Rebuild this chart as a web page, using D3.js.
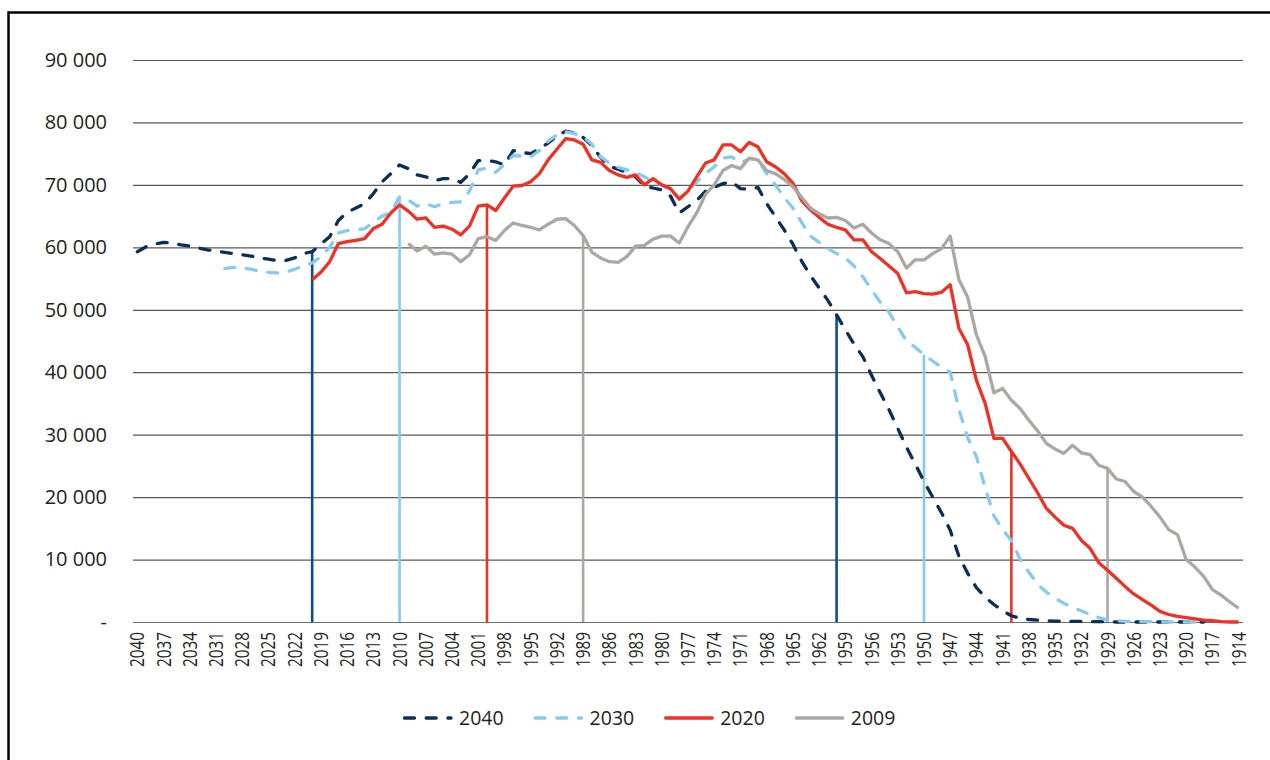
<!DOCTYPE html>
<html>
<head>
<meta charset="utf-8">
<script src="https://cdn.jsdelivr.net/npm/d3@7"></script>
<style>
  body { margin: 0; background: #fff; }
  svg text { font-family: "Open Sans", sans-serif; fill: #231f20; }
</style>
</head>
<body>
<svg id="chart" width="1270" height="760"></svg>
<script>
// birth years on the category axis, newest first
const categories = d3.range(2040, 1913, -1);
const tickLabels = [2040, 2037, 2034, 2031, 2028, 2025, 2022, 2019, 2016, 2013, 2010,
  2007, 2004, 2001, 1998, 1995, 1992, 1989, 1986, 1983, 1980, 1977, 1974, 1971,
  1968, 1965, 1962, 1959, 1956, 1953, 1950, 1947, 1944, 1941, 1938, 1935, 1932,
  1929, 1926, 1923, 1920, 1917, 1914];
const yTicks = [0, 10000, 20000, 30000, 40000, 50000, 60000, 70000, 80000, 90000];

const seriesNames = ["2040", "2030", "2020", "2009"];
// first birth year of each series (values then go one year back per entry)
const seriesStart = [2040, 2030, 2020, 2009];

const v2040 = [
  59300, 60100, 60500, 60800, 60700, 60400, 60200, 59900, 59600, 59400,
  59200, 59000, 58800, 58600, 58300, 58100, 57900, 57900, 58300, 59000,
  59300, 60500, 61700, 64300, 65600, 66300, 67000, 68600, 70500, 71800,
  73200, 72600, 71600, 71300, 70700, 71000, 71000, 70400, 71800, 73900,
  73900, 73700, 73200, 75500, 75200, 75000, 75800, 76700, 77800, 78600,
  78300, 77600, 76300, 74400, 73000, 72500, 72000, 71300, 69800, 69500,
  69200, 68200, 65500, 66500, 67500, 69000, 69600, 70200, 70500, 69400,
  69300, 69600, 67000, 64900, 62800, 60500, 57800, 55500, 53500, 51500,
  49200, 46800, 44500, 42500, 39500, 36700, 34000, 31000, 28000, 25300,
  22500, 20000, 17500, 14700, 10500, 7800, 5500, 4000, 2800, 1800,
  1000, 600, 400, 300, 200, 150, 100, 100, 100, 50,
  50, 50, 0, 0, 0, 0, 0, 0, 0, 0,
  0, 0, 0
];
const v2030 = [
  56600, 56800, 56700, 56500, 56200, 56000, 55900, 56000, 56500, 57000,
  57500, 58500, 60000, 62300, 62700, 62800, 63000, 64000, 65000, 65600,
  68100, 67600, 66600, 67000, 66500, 67000, 67200, 67300, 69000, 72400,
  72700, 72000, 73300, 74700, 74600, 74500, 75500, 77000, 78000, 78500,
  78200, 77800, 76500, 74500, 73500, 72800, 72400, 72000, 71300, 70500,
  70000, 69300, 67900, 69000, 70500, 71800, 72900, 74300, 74500, 73500,
  74200, 74000, 71800, 70000, 68000, 66300, 64000, 61800, 60800, 59800,
  59000, 58300, 57000, 55300, 53200, 51200, 49600, 47300, 45000, 44000,
  42800, 41800, 40800, 40000, 34000, 29500, 26500, 21500, 17000, 14800,
  13000, 10000, 8000, 6000, 4800, 3800, 3000, 2300, 1800, 1200,
  700, 300, 200, 100, 100, 50, 50, 0, 0, 0,
  0, 0, 0
];
const v2020 = [
  54800, 56000, 57700, 60600, 60900, 61100, 61400, 63000, 63700, 65500,
  66800, 65800, 64500, 64700, 63200, 63400, 62900, 62000, 63400, 66600,
  66800, 65900, 67900, 69800, 69900, 70500, 71800, 74000, 75700, 77400,
  77200, 76500, 74000, 73600, 72300, 71600, 71200, 71600, 70000, 71000,
  70000, 69400, 67700, 69000, 71300, 73500, 74000, 76400, 76400, 75300,
  76800, 76100, 73700, 72900, 71800, 70300, 67500, 66000, 64800, 63700,
  63200, 62800, 61200, 61200, 59300, 58200, 57000, 55800, 52700, 52900,
  52600, 52500, 52800, 54000, 47000, 44400, 38700, 35000, 29400, 29400,
  27300, 25300, 23000, 20700, 18200, 16800, 15500, 15000, 13100, 11800,
  9500, 8300, 7000, 5700, 4500, 3600, 2700, 1700, 1200, 900,
  700, 500, 300, 200, 50, 0, 0
];
const v2009 = [
  60600, 59400, 60200, 58900, 59100, 58900, 57700, 58800, 61400, 61700,
  61100, 62700, 63900, 63500, 63200, 62800, 63700, 64500, 64600, 63500,
  61900, 59200, 58300, 57700, 57600, 58500, 60200, 60300, 61300, 61800,
  61800, 60700, 63300, 65500, 68500, 70000, 72300, 73100, 72600, 74300,
  74000, 72300, 71800, 70900, 69700, 68000, 66300, 65400, 64700, 64800,
  64300, 63100, 63700, 62300, 61200, 60600, 59300, 56700, 58000, 58000,
  59000, 59800, 61800, 54800, 52000, 46000, 42500, 36700, 37400, 35500,
  34200, 32300, 30600, 28600, 27700, 27000, 28300, 27100, 26800, 25100,
  24600, 22900, 22500, 20900, 20000, 18500, 16800, 14800, 14000, 10000,
  8800, 7300, 5200, 4300, 3200, 2200
];
const seriesValues = [v2040, v2030, v2020, v2009];
// drop lines at age 20 and age 80 for each projection year
const dropYears = [[2020, 1960], [2010, 1950], [2000, 1940], [1989, 1929]];

const lineColors = ["#0b2e59", "#86cbee", "#ee3124", "#aca7a3"];
const dropColors = ["#0d4f8b", "#86cbee", "#ee3124", "#aca7a3"];
const dashed = [true, true, false, false];

const svg = d3.select("#chart");

const plotLeft = 133, plotRight = 1243, plotTop = 60, plotBottom = 622;

const x = d3.scaleBand().domain(categories).range([plotLeft, plotRight]);
const cx = yr => x(yr) + x.bandwidth() / 2;
const y = d3.scaleLinear().domain([0, 90000]).range([plotBottom, plotTop]);

const locale = d3.formatLocale({ decimal: ",", thousands: " ", grouping: [3], currency: ["", ""] });
const fmt = locale.format(",");

// outer frame (top and left only)
svg.append("path")
  .attr("d", "M8.5,760 V12.5 H1270")
  .attr("fill", "none")
  .attr("stroke", "#000")
  .attr("stroke-width", 2.5);

// y axis with gridlines
const yAxis = svg.append("g")
  .attr("transform", `translate(${plotLeft},0)`)
  .call(d3.axisLeft(y)
    .tickValues(yTicks)
    .tickSize(-(plotRight - plotLeft))
    .tickPadding(26)
    .tickFormat(d => d === 0 ? "-" : fmt(d)));
yAxis.select(".domain").remove();
yAxis.selectAll(".tick line")
  .attr("stroke", d => d === 0 ? "#6d6e71" : "#58595b")
  .attr("stroke-width", 1.2);
yAxis.selectAll(".tick text")
  .attr("font-size", 20)
  .attr("fill", "#231f20");

// x axis labels
const xAxis = svg.append("g")
  .attr("transform", `translate(0,${plotBottom})`)
  .call(d3.axisBottom(x).tickValues(tickLabels).tickSize(0));
xAxis.select(".domain").remove();
xAxis.selectAll(".tick text")
  .attr("transform", "rotate(-90)")
  .attr("text-anchor", "end")
  .attr("x", -10)
  .attr("y", 0)
  .attr("dy", "0.35em")
  .attr("font-size", 20)
  .attr("textLength", 35)
  .attr("lengthAdjust", "spacingAndGlyphs")
  .attr("fill", "#231f20");

// drop lines
seriesValues.forEach((vals, i) => {
  dropYears[i].forEach(yr => {
    const v = vals[seriesStart[i] - yr];
    svg.append("line")
      .attr("x1", cx(yr)).attr("x2", cx(yr))
      .attr("y1", y(0)).attr("y2", y(v))
      .attr("stroke", dropColors[i])
      .attr("stroke-width", 2.6);
  });
});

// series lines
const line = d3.line()
  .x(d => cx(d.year))
  .y(d => y(d.value));

seriesValues.forEach((vals, i) => {
  const pts = vals.map((v, k) => ({ year: seriesStart[i] - k, value: v }));
  svg.append("path")
    .datum(pts)
    .attr("d", line)
    .attr("fill", "none")
    .attr("stroke", lineColors[i])
    .attr("stroke-width", 3.3)
    .attr("stroke-linejoin", "round")
    .attr("stroke-linecap", dashed[i] ? "round" : "butt")
    .attr("stroke-dasharray", dashed[i] ? "10,11.7" : null);
});

// legend
const legend = svg.append("g").attr("transform", "translate(403,718)");
seriesNames.forEach((name, i) => {
  const g = legend.append("g").attr("transform", `translate(${i * 130.6},0)`);
  g.append("line")
    .attr("x1", 1.5).attr("x2", 48)
    .attr("stroke", lineColors[i])
    .attr("stroke-width", 3.3)
    .attr("stroke-linecap", "round")
    .attr("stroke-dasharray", dashed[i] ? "10,11.7" : null);
  g.append("text")
    .attr("x", 56)
    .attr("dy", "0.35em")
    .attr("font-size", 19.5)
    .text(name);
});
</script>
</body>
</html>
